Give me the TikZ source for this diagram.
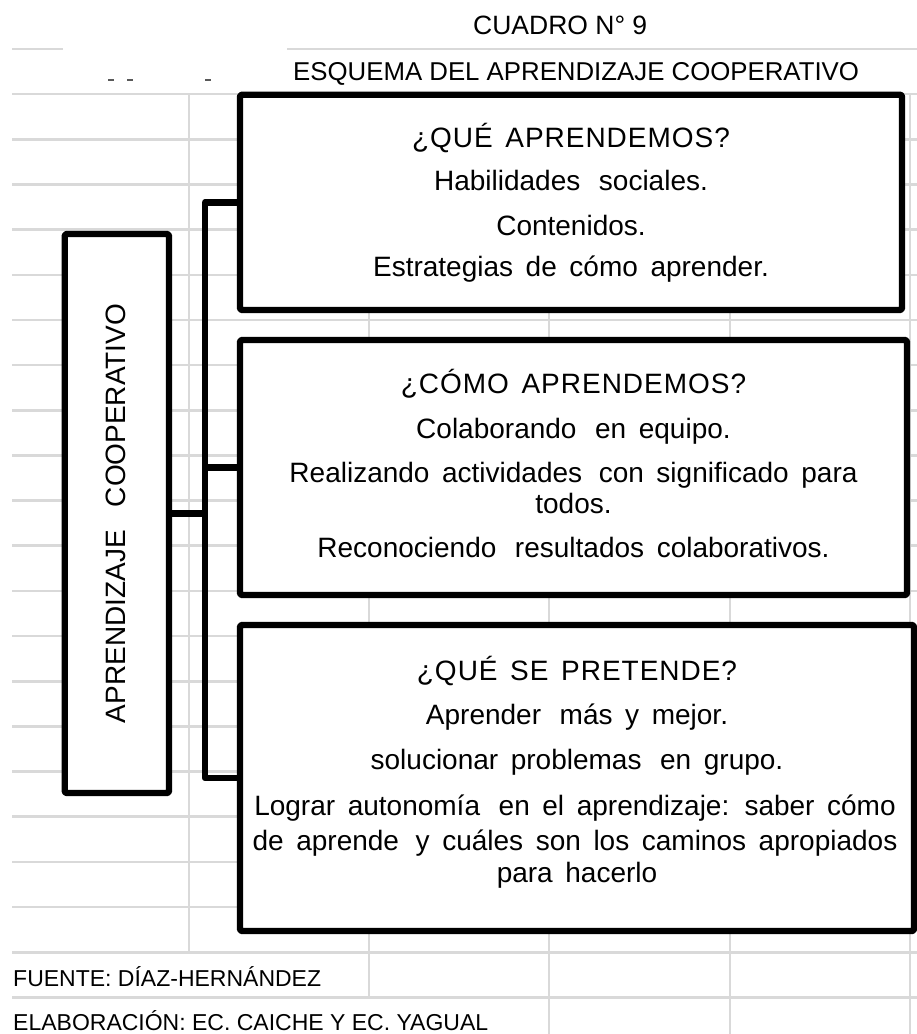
\documentclass[tikz,border=0pt]{standalone}
\usepackage{fontspec}
\setmainfont{Liberation Sans}
\newfontfamily\headfont[LetterSpace=3.5]{Liberation Sans}
\newcommand\widesp{\spaceskip=0.45em\relax}
\begin{document}
\begin{tikzpicture}[x=1pt,y=-1pt,
  grid/.style={draw={rgb,255:red,217;green,217;blue,217}, line width=2.6pt},
  box/.style={draw=black, line width=6.3pt, fill=white, rectangle, inner sep=0pt, outer sep=0pt, line join=round, rounded corners=1.5pt},
  conn/.style={draw=black, line width=6.3pt, line join=round},
  txt/.style={font={\fontsize{28}{30}\selectfont\widesp}, anchor=base, inner sep=0pt},
  head/.style={font={\headfont\fontsize{28}{30}\selectfont\widesp}, anchor=base, inner sep=0pt},
  foot/.style={font={\fontsize{23}{25}\selectfont}, anchor=base west, inner sep=0pt}]
\useasboundingbox (0,0) rectangle (917,1034);
\fill[white] (0,0) rectangle (917,1034);
% sheet grid
\draw[grid] (12,49) -- (63,49);
\draw[grid] (287,49) -- (917,49);
\foreach \k in {1,...,21} \draw[grid] (12,{49+45.16*\k}) -- (917,{49+45.16*\k});
\draw[grid] (189,94.16) -- (189,952.4);
\draw[grid] (369,94.16) -- (369,997.4);
\foreach \x in {549,730,910} \draw[grid] (\x,94.16) -- (\x,1034);
% leftover marks
\foreach \a in {108,127,205} \draw[black!65, line width=1.6pt] (\a,80) -- ++(6,0);
% titles
\node[font={\fontsize{26.5}{28}\selectfont}, anchor=base west, inner sep=0pt] (title) at (473,34.3) {CUADRO N° 9};
\node[font={\fontsize{25.8}{28}\selectfont}, anchor=base west, inner sep=0pt] (subtitle) at (293,80) {ESQUEMA DEL APRENDIZAJE COOPERATIVO};
% boxes
\node[box, minimum width=104.3pt, minimum height=559pt] (L) at (116.85,513.5) {};
\node[box, minimum width=662pt, minimum height=215.3pt] (B1) at (571,202.35) {};
\node[box, minimum width=667pt, minimum height=255pt] (B2) at (573.5,467.5) {};
\node[box, minimum width=674pt, minimum height=306pt] (B3) at (577,778) {};
% connectors
\coordinate (spine) at (205,0);
\draw[conn] (B1.west) -- (B1.west -| spine) -- (B3.west -| spine) -- (B3.west);
\draw[conn] (L.east) -- (L.east -| spine);
\draw[conn] (B2.west) -- (B2.west -| spine);
% vertical label
\node[font={\fontsize{28}{30}\selectfont}, rotate=90, inner sep=0pt] (Lt) at (116,513.5) {APRENDIZAJE\hspace{23pt}COOPERATIVO};
% box 1
\node[head] (b1a) at (571,147) {¿QUÉ APRENDEMOS?};
\node[txt] (b1b) at (571,190) {Habilidades\hspace{6pt} sociales.};
\node[txt] (b1c) at (571,235) {Contenidos.};
\node[txt] (b1d) at (571,276) {Estrategias de cómo aprender.};
% box 2
\node[head] (b2a) at (573.5,393) {¿CÓMO APRENDEMOS?};
\node[txt] (b2b) at (573.5,438) {Colaborando\hspace{6pt} en equipo.};
\node[txt] (b2c) at (573.5,482) {Realizando actividades\hspace{4pt} con significado para};
\node[txt] (b2d) at (573.5,513) {todos.};
\node[txt] (b2e) at (573.5,557) {Reconociendo\hspace{6pt} resultados colaborativos.};
% box 3
\node[head] (b3a) at (577,680) {¿QUÉ SE PRETENDE?};
\node[txt] (b3b) at (577,724) {Aprender\hspace{6pt} más y mejor.};
\node[txt] (b3c) at (577,769) {solucionar problemas\hspace{6pt} en grupo.};
\node[txt] (b3d) at (575,815) {Lograr autonomía\hspace{6pt} en el aprendizaje: saber cómo};
\node[txt] (b3e) at (575,850) {de aprende\hspace{4pt} y cuáles son los caminos apropiados};
\node[txt] (b3f) at (577,882) {para hacerlo};
% footer
\node[foot] (src) at (13,986.7) {FUENTE: DÍAZ-HERNÁNDEZ};
\node[foot] (elab) at (13,1030) {ELABORACIÓN: EC. CAICHE Y EC. YAGUAL};
\end{tikzpicture}
\end{document}
